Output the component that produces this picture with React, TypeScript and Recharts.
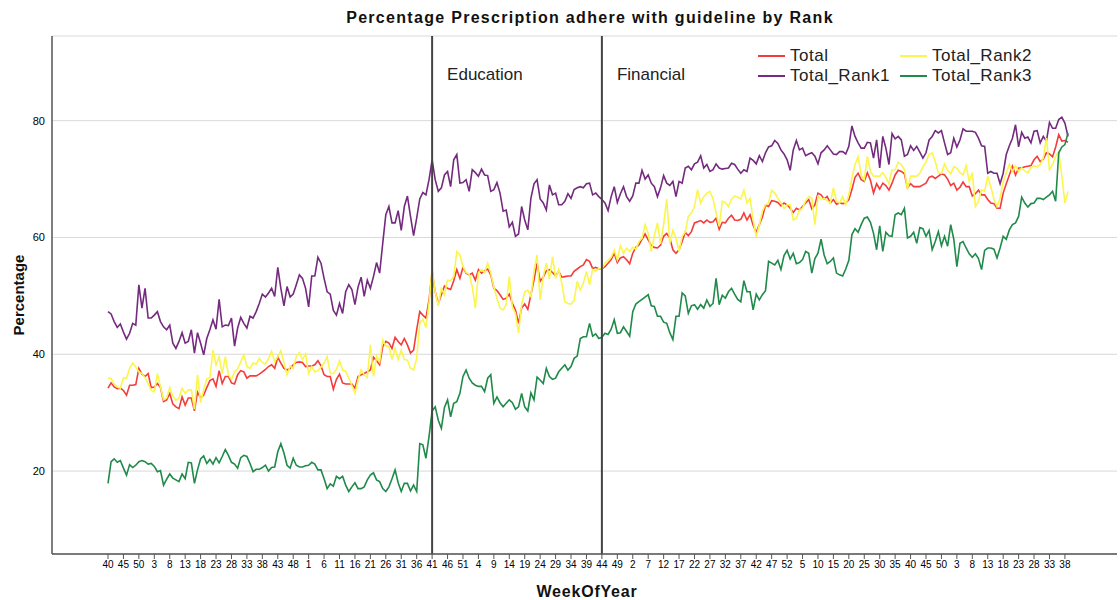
import { LineChart, Line, XAxis, YAxis, CartesianGrid, ReferenceLine } from 'recharts';

// weeks run from week 40 of the first year, 52 weeks a year, 312 weekly points
const firstWeek = 40;
const weeksPerYear = 52;
const pointCount = 312;

const yTicks = [20, 40, 60, 80];

const total = [
  34.2, 35.1, 34.4, 34.1, 34.2, 33.8, 33.0, 34.7, 34.7, 34.8, 37.6, 36.6, 36.2, 36.7, 34.3, 34.4, 35.0, 34.3, 31.9, 32.2,
  33.3, 31.5, 31.0, 30.7, 32.7, 31.3, 32.5, 32.5, 30.3, 33.5, 32.5, 33.0, 34.3, 35.5, 35.8, 34.5, 37.2,
  35.0, 36.2, 36.2, 35.1, 34.9, 36.5, 37.2, 37.0, 35.9, 36.3, 36.3, 36.3, 36.6, 37.0, 37.4, 37.9, 38.2, 37.6, 39.5, 38.5,
  37.6, 37.3, 37.6, 38.2, 38.6, 38.7, 38.6, 37.9, 38.0, 38.0, 38.2, 38.9, 38.0, 36.5, 36.2, 36.2, 34.0, 35.7, 36.6,
  35.1, 34.9, 34.9, 34.9, 34.2, 36.2, 36.5, 36.7, 37.0, 37.3, 39.5, 38.9, 38.2, 41.3, 42.2, 41.9, 41.0, 42.9, 42.2, 41.6,
  42.7, 41.6, 40.2, 40.7, 44.2, 47.3, 46.7, 46.2, 49.3, 54.2, 50.7, 48.7, 50.2, 51.7, 51.3, 51.1, 52.6, 54.5, 53.0,
  54.9, 53.9, 53.6, 53.9, 52.7, 54.5, 53.9, 54.3, 54.6, 53.6, 51.3, 50.9, 50.2, 49.4, 49.6, 50.3, 48.7, 47.6, 45.3, 47.9,
  48.6, 47.7, 50.2, 52.7, 55.6, 52.5, 53.2, 54.3, 54.5, 54.0, 53.4, 54.2, 53.2, 53.3, 53.4, 53.4, 54.2, 54.6, 55.0,
  55.3, 56.2, 55.9, 54.7, 54.9, 54.6, 54.6, 55.0, 55.6, 56.2, 57.3, 55.7, 56.5, 56.7, 56.2, 55.5, 57.3, 58.3, 58.7, 59.7,
  60.6, 59.6, 58.6, 58.3, 58.2, 58.7, 60.2, 60.7, 59.9, 57.9, 57.3, 57.9, 59.3, 60.9, 60.3, 61.0, 62.5, 62.7, 62.9,
  62.5, 63.0, 62.6, 62.7, 63.3, 61.4, 62.6, 62.5, 63.3, 63.8, 63.0, 62.9, 63.1, 64.2, 63.0, 63.9, 62.1, 60.9, 62.2, 63.5,
  65.5, 65.3, 66.3, 66.2, 66.0, 65.4, 65.9, 65.6, 65.0, 64.3, 65.0, 64.7, 65.3, 65.9, 66.5, 64.9, 65.6, 67.6, 67.3,
  66.6, 67.0, 65.9, 66.5, 65.7, 65.9, 65.8, 65.9, 66.5, 68.2, 70.3, 71.0, 69.9, 69.6, 71.1, 69.8, 67.6, 69.2, 68.3, 69.3,
  68.9, 68.1, 69.3, 70.7, 71.5, 71.3, 70.9, 68.5, 69.2, 68.7, 68.7, 68.7, 69.0, 69.3, 70.3, 70.5, 70.1, 70.5, 70.9,
  70.7, 70.0, 68.9, 69.3, 68.1, 68.6, 69.5, 68.7, 68.7, 67.1, 67.5, 68.1, 67.3, 67.3, 66.5, 65.9, 65.8, 65.0, 65.0, 67.6,
  69.2, 70.7, 72.2, 70.7, 71.9, 71.9, 72.1, 72.2, 72.3, 73.3, 73.9, 73.0, 73.4, 74.5, 74.3, 73.8, 75.5, 77.6, 76.5, 76.6, 76.3,
];

const rank1 = [
  47.3, 46.9, 45.6, 44.6, 45.2, 43.8, 42.6, 43.6, 45.3, 45.0, 51.9, 47.9, 51.3, 46.2, 46.2, 46.7, 47.3, 45.6, 44.7, 44.2,
  45.0, 41.9, 41.0, 42.2, 43.7, 41.9, 42.2, 44.2, 40.2, 43.7, 41.9, 39.9, 42.7, 44.2, 45.9, 44.3, 49.4,
  44.7, 45.0, 44.9, 46.2, 41.4, 44.5, 46.3, 45.3, 44.5, 46.5, 46.2, 47.3, 48.7, 50.3, 49.8, 50.5, 51.3, 49.9, 54.9, 51.3,
  48.3, 51.6, 49.8, 50.3, 51.9, 53.6, 53.0, 51.3, 48.1, 53.4, 53.4, 56.6, 55.6, 53.0, 50.7, 50.3, 47.5, 46.7, 48.7,
  47.0, 50.7, 51.9, 51.1, 48.5, 51.5, 53.2, 49.9, 52.7, 51.3, 53.3, 55.7, 53.9, 59.0, 63.9, 65.3, 62.5, 62.5, 64.6, 61.2,
  65.3, 67.1, 63.6, 60.3, 63.3, 66.6, 67.7, 67.3, 69.9, 73.3, 69.9, 67.9, 68.5, 70.7, 71.3, 68.7, 73.3, 74.2, 69.3,
  69.4, 69.9, 67.9, 71.6, 71.1, 70.5, 71.7, 70.7, 70.6, 67.9, 68.2, 69.4, 67.6, 64.5, 64.7, 61.8, 62.6, 60.2, 60.6, 65.3,
  63.0, 61.3, 66.7, 69.2, 69.9, 66.6, 65.9, 64.7, 69.0, 67.3, 67.6, 65.6, 65.6, 66.2, 67.5, 66.7, 68.2, 68.5, 68.7,
  68.5, 69.2, 69.3, 67.3, 67.6, 67.0, 66.5, 65.9, 64.6, 67.0, 68.7, 66.0, 67.5, 68.7, 67.0, 66.2, 67.1, 69.3, 69.3, 71.5,
  70.0, 70.7, 69.3, 68.7, 67.0, 68.5, 70.6, 69.3, 68.9, 69.6, 67.0, 69.6, 69.3, 71.9, 72.2, 71.6, 72.6, 72.9, 74.0,
  71.9, 72.5, 71.3, 71.6, 72.6, 71.9, 71.7, 71.8, 71.9, 72.7, 72.5, 71.7, 71.0, 71.6, 71.3, 73.6, 73.2, 72.6, 74.0, 73.0,
  74.5, 75.5, 75.7, 76.6, 76.1, 75.0, 74.3, 73.3, 71.5, 75.0, 76.6, 75.0, 75.3, 74.0, 74.3, 74.5, 73.9, 72.6, 74.5,
  75.0, 75.7, 75.0, 74.3, 74.2, 74.7, 74.7, 74.3, 75.6, 79.1, 77.3, 76.2, 75.3, 75.3, 76.3, 76.2, 73.6, 76.7, 71.9, 77.3,
  75.3, 72.5, 77.8, 76.9, 77.3, 76.7, 73.9, 74.2, 75.7, 74.9, 75.6, 74.6, 73.6, 74.5, 76.7, 77.3, 78.3, 77.9, 78.3,
  76.2, 74.2, 74.5, 77.0, 75.5, 76.7, 78.6, 78.2, 78.2, 78.2, 78.0, 77.0, 75.7, 75.6, 71.0, 71.3, 71.0, 71.0, 69.2, 71.0,
  74.2, 75.7, 77.0, 79.3, 75.5, 78.0, 77.0, 77.2, 76.2, 78.2, 78.3, 76.2, 77.3, 76.5, 79.7, 78.7, 78.7, 80.2, 80.6, 79.6, 77.3,
];

const rank2 = [
  35.9, 35.9, 34.9, 34.4, 34.2, 36.0, 35.9, 37.6, 38.5, 37.8, 37.0, 36.7, 36.0, 35.0, 33.8, 33.6, 36.7, 34.4, 32.2, 32.5,
  34.3, 32.9, 32.1, 32.5, 34.2, 33.3, 33.9, 33.9, 30.6, 36.5, 31.7, 33.9, 35.8, 36.0, 40.7, 38.2, 39.6,
  36.7, 39.6, 36.5, 35.7, 37.0, 37.5, 38.7, 39.9, 37.9, 37.6, 38.5, 38.3, 39.3, 38.6, 38.3, 39.3, 40.5, 38.7, 39.6, 40.6,
  38.6, 36.5, 38.0, 37.6, 39.6, 40.3, 39.1, 40.1, 36.7, 37.9, 37.0, 37.2, 37.8, 38.5, 39.6, 36.7, 36.7, 37.4, 38.9,
  37.3, 37.1, 35.9, 34.7, 33.3, 35.6, 37.3, 36.5, 36.0, 41.6, 36.2, 39.7, 38.7, 42.5, 41.4, 41.4, 39.1, 41.0, 39.1, 40.7,
  39.1, 39.0, 37.6, 37.3, 39.3, 45.3, 46.0, 44.6, 48.7, 54.7, 50.7, 48.3, 51.3, 50.2, 52.7, 52.6, 53.3, 57.6, 57.0,
  55.0, 54.0, 53.7, 51.6, 47.9, 54.0, 54.5, 54.0, 55.6, 53.9, 51.5, 49.6, 47.9, 47.6, 48.5, 53.3, 48.1, 47.0, 43.6, 48.5,
  50.7, 51.0, 49.9, 54.2, 57.0, 49.3, 53.3, 55.6, 52.9, 56.7, 53.0, 54.5, 52.2, 49.0, 48.7, 48.6, 49.2, 52.5, 51.0,
  52.2, 54.2, 51.9, 54.5, 54.2, 54.7, 54.6, 55.6, 56.1, 56.6, 57.8, 56.2, 58.6, 57.3, 58.2, 57.6, 58.3, 58.0, 59.3, 59.9,
  62.2, 60.7, 57.6, 60.3, 62.5, 58.9, 62.2, 66.6, 59.0, 61.2, 59.9, 57.6, 60.2, 60.9, 63.6, 64.2, 65.3, 68.2, 65.9,
  67.0, 67.6, 67.9, 66.6, 64.2, 61.9, 66.2, 66.0, 65.3, 66.6, 67.1, 66.9, 66.6, 68.1, 65.9, 66.7, 63.0, 60.1, 62.2, 64.5,
  65.6, 65.9, 68.1, 67.6, 66.7, 66.0, 65.0, 65.6, 65.6, 63.0, 63.3, 64.7, 65.0, 66.3, 67.0, 66.7, 62.2, 67.0, 66.6,
  66.7, 66.3, 65.9, 68.5, 66.2, 65.9, 67.0, 65.6, 67.3, 70.2, 72.5, 73.8, 70.7, 69.9, 73.9, 71.3, 70.5, 70.5, 70.5, 71.1,
  70.3, 69.2, 71.6, 71.6, 72.9, 72.5, 71.6, 68.3, 70.5, 70.5, 70.5, 71.0, 72.1, 72.9, 74.2, 74.5, 73.0, 71.0, 71.0,
  72.6, 71.5, 70.9, 72.1, 71.9, 71.1, 70.7, 72.3, 69.6, 71.1, 65.3, 66.2, 68.2, 67.9, 70.5, 68.7, 66.6, 65.3, 66.7, 69.6,
  71.1, 72.5, 71.3, 72.3, 71.3, 71.9, 71.4, 71.1, 71.9, 72.3, 72.1, 72.5, 73.6, 77.0, 71.6, 72.5, 73.9, 74.7, 70.5, 65.9, 67.9,
];

const rank3 = [
  17.9, 21.6, 22.1, 21.5, 21.8, 20.5, 19.3, 21.1, 20.6, 21.0, 21.6, 21.8, 21.6, 21.2, 21.3, 20.8, 19.9, 20.1, 17.6, 18.6,
  19.5, 18.8, 18.5, 18.2, 19.5, 18.7, 21.5, 21.4, 17.9, 20.2, 22.1, 22.6, 21.3, 22.0, 21.2, 22.3, 21.4,
  22.5, 23.7, 22.7, 21.5, 21.2, 20.5, 22.3, 22.7, 22.5, 21.3, 19.9, 20.3, 20.3, 20.6, 21.0, 20.0, 20.6, 20.7, 23.3, 24.7,
  23.1, 21.0, 20.5, 22.2, 21.0, 20.7, 20.7, 20.9, 21.0, 21.5, 21.2, 20.2, 20.2, 18.7, 17.0, 17.8, 17.4, 19.1, 18.7,
  19.1, 17.6, 16.5, 17.3, 18.0, 17.0, 17.0, 17.3, 18.5, 19.3, 19.7, 18.5, 18.2, 17.0, 16.5, 17.3, 18.7, 20.2, 18.0, 16.5,
  17.9, 17.9, 16.6, 17.6, 16.5, 24.7, 24.5, 22.2, 25.9, 30.3, 31.0, 28.7, 27.3, 30.9, 32.2, 29.3, 31.6, 31.9, 33.3,
  36.2, 37.3, 35.9, 35.1, 34.7, 34.5, 34.5, 33.6, 35.9, 36.5, 31.6, 32.7, 31.7, 31.0, 31.6, 32.2, 31.7, 30.6, 31.0, 33.3,
  31.0, 30.3, 33.4, 32.2, 36.1, 35.6, 35.0, 37.6, 36.2, 35.7, 35.9, 37.0, 37.6, 38.2, 37.3, 37.9, 39.3, 39.7, 42.7,
  43.0, 43.0, 45.3, 43.1, 43.5, 42.7, 42.9, 43.6, 43.4, 44.3, 45.9, 43.6, 43.7, 44.7, 43.9, 43.1, 47.3, 48.6, 49.0, 49.4,
  49.8, 50.2, 48.3, 48.2, 46.5, 46.5, 45.5, 45.3, 43.7, 42.5, 46.5, 46.5, 50.5, 50.0, 47.0, 48.3, 48.5, 47.7, 48.5,
  47.9, 49.3, 48.2, 48.7, 53.0, 48.5, 50.1, 49.6, 50.7, 51.3, 50.3, 49.4, 49.0, 52.6, 50.7, 50.7, 47.6, 50.3, 49.3, 50.2,
  50.9, 55.9, 55.6, 55.3, 56.1, 54.5, 56.9, 57.8, 56.3, 57.3, 55.5, 55.7, 56.2, 57.6, 57.3, 53.9, 56.4, 57.3, 59.7,
  57.0, 55.5, 55.9, 56.5, 53.9, 53.6, 53.4, 54.6, 56.1, 60.5, 61.5, 60.9, 62.2, 63.3, 63.5, 62.6, 60.7, 57.9, 62.0, 57.6,
  60.9, 60.3, 60.2, 63.9, 64.2, 63.9, 65.0, 59.9, 60.2, 60.9, 59.0, 61.7, 61.5, 60.2, 61.2, 57.9, 59.3, 61.0, 58.6,
  60.2, 58.5, 62.2, 59.7, 55.0, 59.0, 59.3, 58.2, 57.2, 56.6, 57.2, 56.4, 54.5, 57.8, 58.2, 58.2, 58.0, 56.5, 58.2, 60.2,
  59.7, 61.3, 62.2, 62.5, 63.6, 66.9, 65.9, 65.2, 65.8, 65.9, 66.7, 66.7, 66.5, 66.9, 67.3, 67.9, 66.2, 74.5, 75.5, 75.9, 77.9,
];

const series = [
  { key: 'total', name: 'Total', color: '#f43c3c' },
  { key: 'rank1', name: 'Total_Rank1', color: '#742a7e' },
  { key: 'rank2', name: 'Total_Rank2', color: '#fbf64e' },
  { key: 'rank3', name: 'Total_Rank3', color: '#1f8a4a' },
];

// legend is laid out in two columns like the original
const legendColumns = [
  ['total', 'rank1'],
  ['rank2', 'rank3'],
];

const markers = [
  { period: '2-41', text: 'Education' },
  { period: '3-44', text: 'Financial' },
];

const rows = Array.from({ length: pointCount }, (_, i) => {
  const n = firstWeek - 1 + i;
  const year = Math.floor(n / weeksPerYear);
  const week = (n % weeksPerYear) + 1;
  return {
    period: `${year}-${week}`,
    total: total[i],
    rank1: rank1[i],
    rank2: rank2[i],
    rank3: rank3[i],
  };
});

const font = '"Liberation Sans", Arial, sans-serif';
const frame = '#555';

function LegendBox() {
  return (
    <div
      style={{
        position: 'absolute',
        left: 758,
        top: 46,
        display: 'flex',
        fontFamily: font,
        fontSize: 17,
        letterSpacing: 0.5,
        color: '#222',
      }}
    >
      {legendColumns.map((col, ci) => (
        <div key={ci} style={{ width: 142 }}>
          {col.map((k) => {
            const s = series.find((x) => x.key === k)!;
            return (
              <div key={k} style={{ display: 'flex', alignItems: 'center', height: 20, whiteSpace: 'nowrap' }}>
                <span style={{ display: 'inline-block', width: 27, height: 2, background: s.color, marginRight: 5 }} />
                <span>{s.name}</span>
              </div>
            );
          })}
        </div>
      ))}
    </div>
  );
}

export default function App() {
  return (
    <div style={{ position: 'absolute', left: 0, top: 0, width: 1120, height: 600, background: '#fff', fontFamily: font }}>
      <div
        style={{
          position: 'absolute',
          left: 590,
          top: 8,
          transform: 'translateX(-50%)',
          whiteSpace: 'nowrap',
          fontSize: 16,
          letterSpacing: 1.3,
          fontWeight: 'bold',
          lineHeight: '20px',
          color: '#111',
        }}
      >
        Percentage Prescription adhere with guideline by Rank
      </div>
      <LineChart width={1120} height={600} data={rows} margin={{ top: 36, right: 3, left: 0, bottom: 0 }}>
        <CartesianGrid vertical={false} stroke="#d9d9d9" />
        <XAxis
          dataKey="period"
          interval={4}
          tickFormatter={(v: string) => v.split('-')[1]}
          padding={{ left: 56, right: 49 }}
          height={46}
          tickSize={5}
          tickMargin={2}
          tick={{ fontSize: 10, fill: '#000', fontFamily: font }}
          tickLine={{ stroke: frame }}
          axisLine={{ stroke: frame, strokeWidth: 1.5 }}
        />
        <XAxis
          xAxisId="top"
          orientation="top"
          dataKey="period"
          height={0}
          tick={false}
          tickLine={false}
          axisLine={{ stroke: frame, strokeWidth: 1.5 }}
        />
        <YAxis
          domain={[5.8, 94.5]}
          ticks={yTicks}
          allowDataOverflow
          width={52}
          tickLine={false}
          tickSize={0}
          tickMargin={7}
          tick={{ fontSize: 11, fill: '#000', fontFamily: font }}
          axisLine={{ stroke: frame, strokeWidth: 1.5 }}
        />
        <YAxis
          yAxisId="right"
          orientation="right"
          width={0}
          domain={[5.8, 94.5]}
          tick={false}
          tickLine={false}
          axisLine={{ stroke: frame, strokeWidth: 1.5 }}
        />
        {series.map((s) => (
          <Line
            key={s.key}
            type="linear"
            dataKey={s.key}
            name={s.name}
            stroke={s.color}
            strokeWidth={1.6}
            dot={false}
            activeDot={false}
            isAnimationActive={false}
          />
        ))}
        {markers.map((m) => (
          <ReferenceLine
            key={m.period}
            x={m.period}
            stroke="#444"
            strokeWidth={2}
            label={(p: any) => (
              <text x={p.viewBox.x + 15} y={p.viewBox.y + 44} fontSize={17} fill="#222" fontFamily={font}>
                {m.text}
              </text>
            )}
          />
        ))}
      </LineChart>
      <LegendBox />
      <div
        style={{
          position: 'absolute',
          left: 18,
          top: 295,
          transform: 'translate(-50%, -50%) rotate(-90deg)',
          fontSize: 15,
          fontWeight: 'bold',
          whiteSpace: 'nowrap',
          color: '#111',
        }}
      >
        Percentage
      </div>
      <div
        style={{
          position: 'absolute',
          left: 587,
          top: 592,
          transform: 'translate(-50%, -50%)',
          fontSize: 16,
          fontWeight: 'bold',
          letterSpacing: 0.8,
          whiteSpace: 'nowrap',
          color: '#111',
        }}
      >
        WeekOfYear
      </div>
    </div>
  );
}
